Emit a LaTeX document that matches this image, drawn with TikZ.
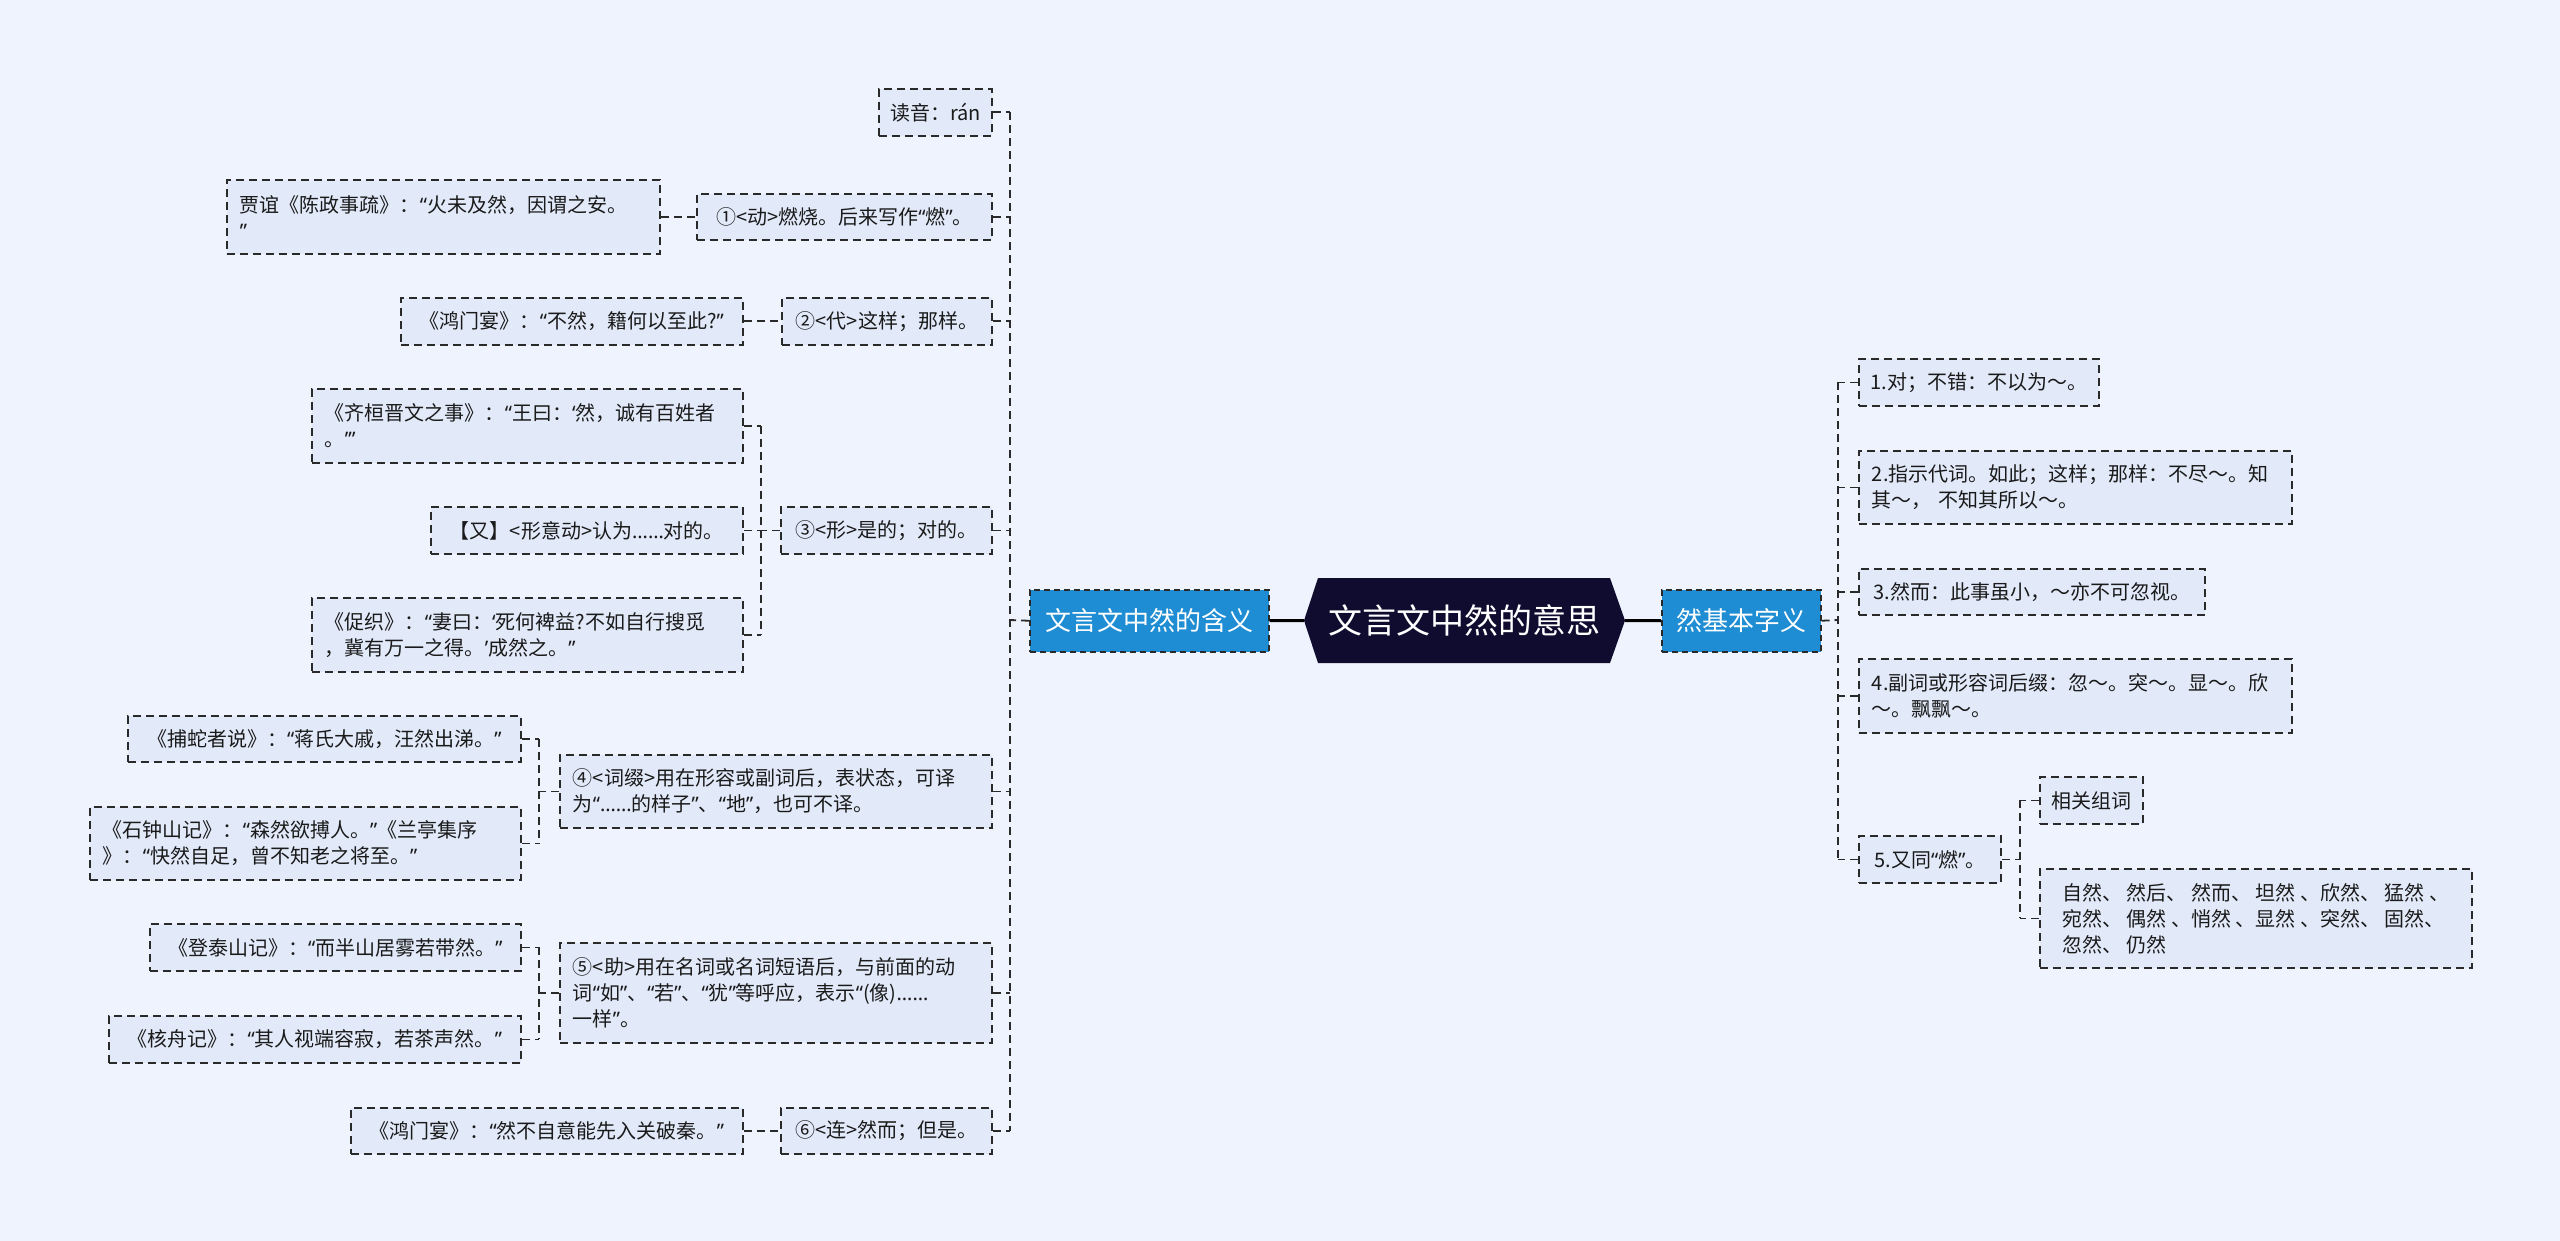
\documentclass[tikz,border=0pt]{standalone}
\usepackage{fontspec}
\setmainfont{Noto Sans CJK SC}
\newfontfamily\qf{Noto Sans}
\newcommand\myql{{\qf “}}
\newcommand\myqr{{\qf ”}}
\newcommand\mysl{{\qf ‘}}
\newcommand\mysr{{\qf ’}}
\newcommand\myel{{\qf ……}}
\usetikzlibrary{calc}
\definecolor{bg}{HTML}{EEF3FD}
\definecolor{nodefill}{HTML}{E2EAFA}
\definecolor{edge}{HTML}{2A2A2A}
\definecolor{branch}{HTML}{1F8DD3}
\definecolor{rootc}{HTML}{100C30}
\definecolor{txt}{HTML}{1A1A1A}
\begin{document}
\begin{tikzpicture}[x=1pt,y=-1pt,
  leaf/.style={draw=edge, line width=1.8pt, dash pattern=on 8pt off 5pt, fill=nodefill,
    text=txt, font=\fontsize{20}{26}\selectfont, align=left, inner sep=0pt, anchor=north west},
  lft/.style={text width=#1, inner xsep=13pt},
  branchbox/.style={draw=edge, line width=1.5pt, dash pattern=on 6pt off 4pt, fill=branch,
    text=white, font=\fontsize{26}{30}\selectfont, inner sep=0pt, anchor=north west,
    minimum width=#1, minimum height=62pt},
  link/.style={draw=edge, line width=1.8pt, dash pattern=on 8pt off 5pt},
  mainlink/.style={draw=black, line width=3pt},
  sz/.style n args={2}{minimum width=#1, minimum height=#2}]
\useasboundingbox (0,0) rectangle (2560,1241);
\fill[bg] (0,0) rectangle (2560,1241);

% root
\fill[rootc] (1318,578) -- (1610,578) -- (1625,620.5) -- (1610,663) -- (1318,663) -- (1304,620.5) -- cycle;
\node[inner sep=0pt, anchor=north west, sz={292pt}{85pt}, text=white,
  font=\fontsize{34}{40}\selectfont] (root) at (1318,578) {文言文中然的意思};
\coordinate (rootW) at (1304,620.5);
\coordinate (rootE) at (1625,620.5);

% branches
\node[branchbox=239pt] (L) at (1029,589) {文言文中然的含义};
\node[branchbox=159pt] (R) at (1661,589) {然基本字义};
\draw[mainlink] (rootW) -- (L.east);
\draw[mainlink] (rootE) -- (R.west);

% left children
\node[leaf, sz={113pt}{47pt}] (read) at (878,88) {读音：rán};
\node[leaf, sz={295pt}{46pt}] (c1) at (696,193) {①<动>燃烧。后来写作\myql{}燃\myqr{}。};
\node[leaf, sz={210pt}{47pt}] (c2) at (781,297) {②<代>这样；那样。};
\node[leaf, sz={211pt}{47pt}] (c3) at (780,506) {③<形>是的；对的。};
\node[leaf, lft=406pt, minimum height=73pt] (c4) at (559,754) {④<词缀>用在形容或副词后，表状态，可译\\为\myql\myel{}的样子\myqr{}、\myql{}地\myqr{}，也可不译。};
\node[leaf, lft=406pt, minimum height=100pt] (c5) at (559,942) {⑤<助>用在名词或名词短语后，与前面的动\\词\myql{}如\myqr{}、\myql{}若\myqr{}、\myql{}犹\myqr{}等呼应，表示\myql{}(像)\myel\\一样\myqr{}。};
\node[leaf, sz={211pt}{46pt}] (c6) at (780,1107) {⑥<连>然而；但是。};

% grandchildren
\node[leaf, lft=407pt, minimum height=74pt] (jia) at (226,179) {贾谊《陈政事疏》：\myql{}火未及然，因谓之安。\\\myqr};
\node[leaf, sz={342pt}{47pt}] (hm1) at (400,297) {《鸿门宴》：\myql{}不然，籍何以至此?\myqr};
\node[leaf, lft=405pt, minimum height=74pt] (qi) at (311,388) {《齐桓晋文之事》：\myql{}王曰：\mysl{}然，诚有百姓者\\。\mysr\myqr};
\node[leaf, sz={312pt}{47pt}] (you) at (430,506) {【又】<形意动>认为\myel{}对的。};
\node[leaf, lft=405pt, minimum height=74pt] (cu) at (311,597) {《促织》：\myql{}妻曰：\mysl{}死何裨益?不如自行搜觅\\，冀有万一之得。\mysr{}成然之。\myqr};
\node[leaf, sz={393pt}{46pt}] (bs) at (127,715) {《捕蛇者说》：\myql{}蒋氏大戚，汪然出涕。\myqr};
\node[leaf, lft=405pt, minimum height=73pt] (szs) at (89,806) {《石钟山记》：\myql{}森然欲搏人。\myqr{}《兰亭集序\\》：\myql{}快然自足，曾不知老之将至。\myqr};
\node[leaf, sz={371pt}{47pt}] (dt) at (149,923) {《登泰山记》：\myql{}而半山居雾若带然。\myqr};
\node[leaf, sz={412pt}{47pt}] (hz) at (108,1015) {《核舟记》：\myql{}其人视端容寂，若茶声然。\myqr};
\node[leaf, sz={392pt}{46pt}] (hm2) at (350,1107) {《鸿门宴》：\myql{}然不自意能先入关破秦。\myqr};

% right children
\node[leaf, sz={240pt}{47pt}] (r1) at (1858,358) {1.对；不错：不以为～。};
\node[leaf, lft=407pt, minimum height=73pt] (r2) at (1858,450) {2.指示代词。如此；这样；那样：不尽～。知\\其～， 不知其所以～。};
\node[leaf, sz={346pt}{46pt}] (r3) at (1858,568) {3.然而：此事虽小，～亦不可忽视。};
\node[leaf, lft=407pt, minimum height=74pt] (r4) at (1858,658) {4.副词或形容词后缀：忽～。突～。显～。欣\\～。飘飘～。};
\node[leaf, sz={142pt}{47pt}] (r5) at (1858,835) {5.又同\myql{}燃\myqr{}。};
\node[leaf, sz={103pt}{47pt}] (r5a) at (2039,776) {相关组词};
\node[leaf, sz={432pt}{99pt}] (r5b) at (2039,868) {自然、 然后、 然而、 坦然 、欣然、 猛然 、\\宛然、 偶然 、悄然 、显然 、突然、 固然、\\忽然、 仍然};

% left spine
\coordinate (sL) at (1010,620);
\draw[link] (L.west) -- (sL);
\draw[link] (sL |- read.east) -- (sL |- c6.east);
\foreach \c in {read,c1,c2,c3,c4,c5,c6} \draw[link] (\c.east) -- (sL |- \c.east);

% single links
\draw[link] (jia.east) -- (c1.west |- jia.east);
\draw[link] (hm1.east) -- (c2.west);
\draw[link] (hm2.east) -- (c6.west);

% sub spine 3
\coordinate (s3) at (761,529);
\draw[link] (c3.west) -- (c3.west -| s3);
\draw[link] (s3 |- qi.east) -- (s3 |- cu.east);
\foreach \c in {qi,you,cu} \draw[link] (\c.east) -- (s3 |- \c.east);

% sub spine 4
\coordinate (s4) at (539,790);
\draw[link] (c4.west) -- (c4.west -| s4);
\draw[link] (s4 |- bs.east) -- (s4 |- szs.east);
\foreach \c in {bs,szs} \draw[link] (\c.east) -- (s4 |- \c.east);

% sub spine 5
\coordinate (s5) at (539,992);
\draw[link] (c5.west) -- (c5.west -| s5);
\draw[link] (s5 |- dt.east) -- (s5 |- hz.east);
\foreach \c in {dt,hz} \draw[link] (\c.east) -- (s5 |- \c.east);

% right spine
\coordinate (sR) at (1838,620);
\draw[link] (R.east) -- (sR);
\draw[link] (sR |- r1.west) -- (sR |- r5.west);
\foreach \c in {r1,r2,r3,r4,r5} \draw[link] (\c.west) -- (sR |- \c.west);

% sub spine r5
\coordinate (sr5) at (2020,858);
\draw[link] (r5.east) -- (r5.east -| sr5);
\draw[link] (sr5 |- r5a.west) -- (sr5 |- r5b.west);
\foreach \c in {r5a,r5b} \draw[link] (\c.west) -- (sr5 |- \c.west);
\end{tikzpicture}
\end{document}
